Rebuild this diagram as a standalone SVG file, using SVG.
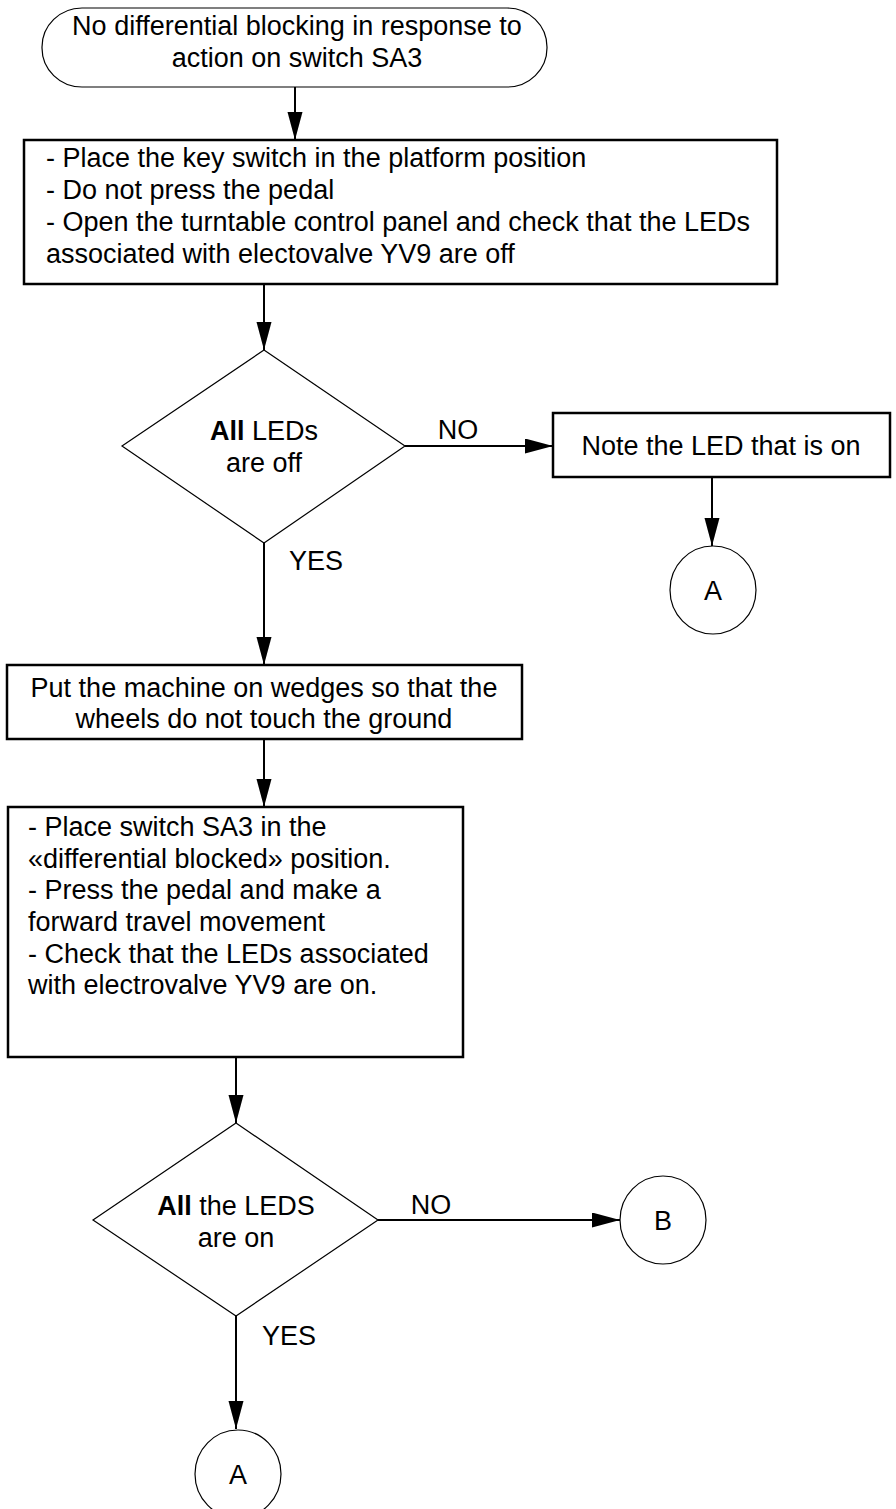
<svg xmlns="http://www.w3.org/2000/svg" width="896" height="1509" viewBox="0 0 896 1509">
<style>
text{font-family:"Liberation Sans",Arial,sans-serif;font-size:27px;fill:#000}
.c{text-anchor:middle}
.b{font-weight:bold}
.box{fill:#fff;stroke:#000;stroke-width:2.5}
.thin{fill:#fff;stroke:#000;stroke-width:1.2}
.ln{fill:none;stroke:#000;stroke-width:2;marker-end:url(#ah)}
</style>
<defs>
<marker id="ah" markerUnits="userSpaceOnUse" markerWidth="30" markerHeight="16" refX="28" refY="7.5" orient="auto">
<path d="M0,0 L28,7.5 L0,15 z" fill="#000"/>
</marker>
</defs>
<rect width="896" height="1509" fill="#fff"/>
<g id="connectors">
<line class="ln" x1="295" y1="87" x2="295" y2="140"/>
<line class="ln" x1="264" y1="284" x2="264" y2="350"/>
<line class="ln" x1="405" y1="446" x2="553" y2="446"/>
<line class="ln" x1="712" y1="477" x2="712" y2="546"/>
<line class="ln" x1="264" y1="543" x2="264" y2="665"/>
<line class="ln" x1="264" y1="739" x2="264" y2="807"/>
<line class="ln" x1="236" y1="1057" x2="236" y2="1123"/>
<line class="ln" x1="378" y1="1220" x2="620" y2="1220"/>
<line class="ln" x1="236" y1="1316" x2="236" y2="1429"/>
<text class="c" x="458" y="439">NO</text>
<text class="c" x="316" y="570">YES</text>
<text class="c" x="431" y="1214">NO</text>
<text class="c" x="289" y="1345">YES</text>
</g>
<g id="start">
<rect class="thin" x="42" y="8" width="505" height="79" rx="40" ry="39"/>
<text class="c" x="297" y="35">No differential blocking in response to</text>
<text class="c" x="297" y="67">action on switch SA3</text>
</g>
<g id="step1">
<rect class="box" x="24" y="140" width="753" height="144"/>
<text x="46" y="167">- Place the key switch in the platform position</text>
<text x="46" y="199">- Do not press the pedal</text>
<text x="46" y="231">- Open the turntable control panel and check that the LEDs</text>
<text x="46" y="263">associated with electovalve YV9 are off</text>
</g>
<g id="decision1">
<polygon class="thin" points="264,350 405,446 264,543 122,446"/>
<text class="c" x="264" y="440"><tspan class="b">All</tspan> LEDs</text>
<text class="c" x="264" y="472">are off</text>
</g>
<g id="note">
<rect class="box" x="553" y="413" width="337" height="64"/>
<text class="c" x="721" y="455">Note the LED that is on</text>
</g>
<g id="connA1">
<ellipse class="thin" cx="713" cy="590" rx="43" ry="44"/>
<text class="c" x="713" y="600">A</text>
</g>
<g id="step2">
<rect class="box" x="7" y="665" width="515" height="74"/>
<text class="c" x="264" y="697">Put the machine on wedges so that the</text>
<text class="c" x="264" y="728">wheels do not touch the ground</text>
</g>
<g id="step3">
<rect class="box" x="8" y="807" width="455" height="250"/>
<text x="28" y="836">- Place switch SA3 in the</text>
<text x="28" y="868">«differential blocked» position.</text>
<text x="28" y="899">- Press the pedal and make a</text>
<text x="28" y="931">forward travel movement</text>
<text x="28" y="963">- Check that the LEDs associated</text>
<text x="28" y="994">with electrovalve YV9 are on.</text>
</g>
<g id="decision2">
<polygon class="thin" points="236,1123 378,1220 236,1316 93,1220"/>
<text class="c" x="236" y="1215"><tspan class="b">All</tspan> the LEDS</text>
<text class="c" x="236" y="1247">are on</text>
</g>
<g id="connB">
<ellipse class="thin" cx="663" cy="1220" rx="43" ry="44"/>
<text class="c" x="663" y="1230">B</text>
</g>
<g id="connA2">
<ellipse class="thin" cx="238" cy="1474" rx="43" ry="44"/>
<text class="c" x="238" y="1484">A</text>
</g>
</svg>
